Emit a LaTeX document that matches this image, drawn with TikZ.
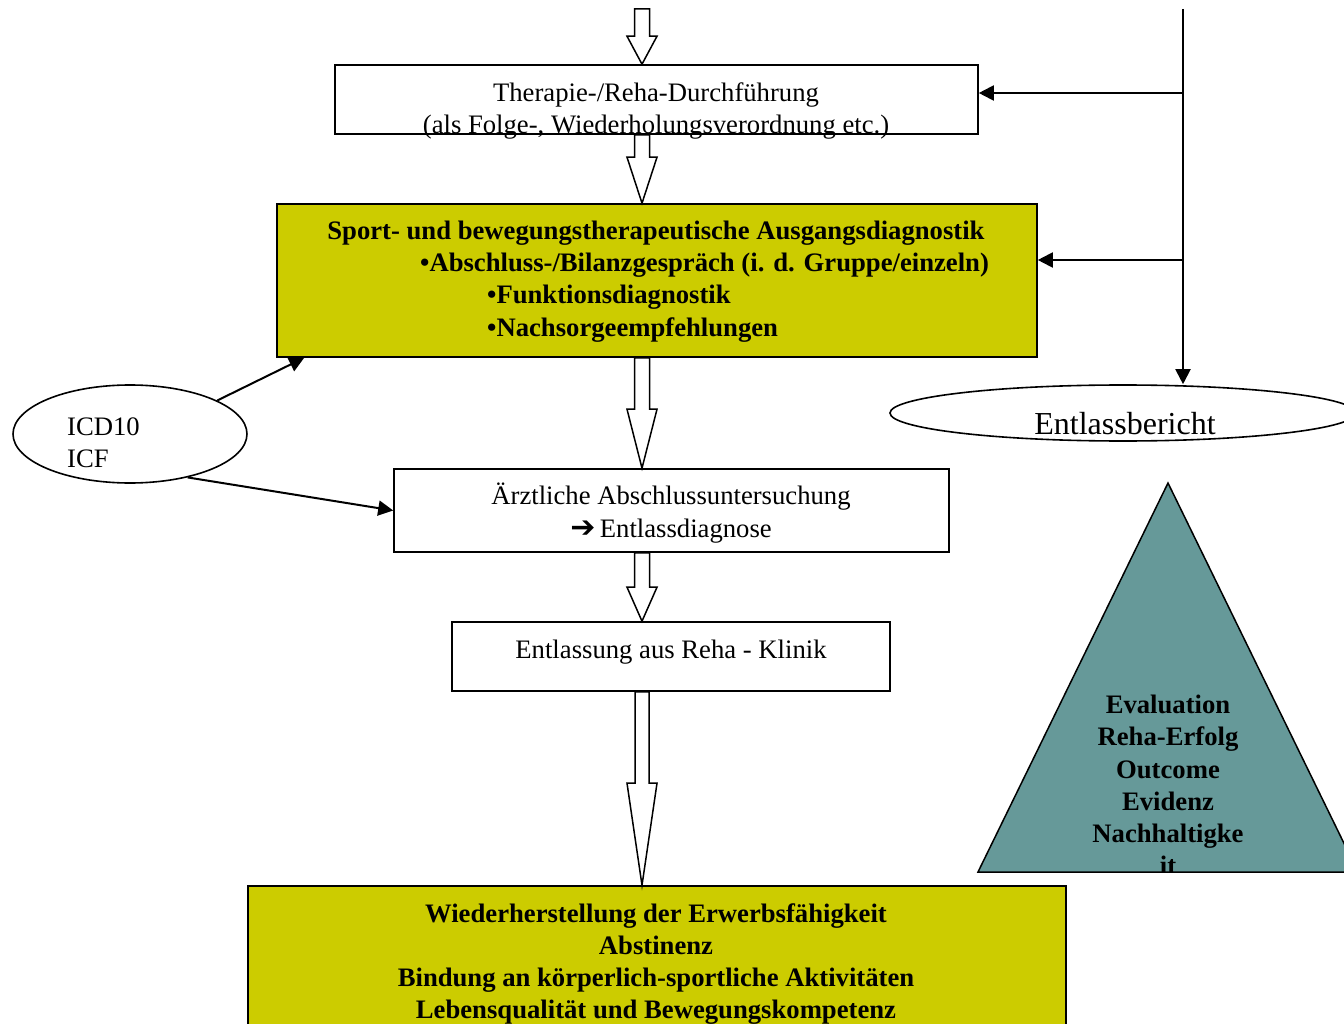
\documentclass[tikz,border=0pt]{standalone}
\usepackage{fontspec}
\setmainfont{Liberation Serif}
\newfontfamily\djv{DejaVu Sans}
\usetikzlibrary{shapes.geometric,arrows.meta,calc}
\definecolor{ylw}{HTML}{CCCC00}
\definecolor{tealx}{HTML}{669999}
\newcommand\hollowarr[5]{%
  \draw[hollow] ($(#1)+(-#3,0)$) -- ($(#2)+(-#3,-#5)$) -- ($(#2)+(-#4,-#5)$) -- (#2)
    -- ($(#2)+(#4,-#5)$) -- ($(#2)+(#3,-#5)$) -- ($(#1)+(#3,0)$) -- cycle;}
\begin{document}
\begin{tikzpicture}[x=1pt,y=-1pt,
  box/.style={draw,line width=1.6pt,inner sep=0pt},
  txt/.style={font=\fontsize{26.67}{32}\selectfont,inner sep=0pt,anchor=base},
  btxt/.style={font=\fontsize{26.67}{32}\selectfont\bfseries,inner sep=0pt,anchor=base},
  hollow/.style={draw,line width=1.5pt,fill=white,line join=miter},
  conn/.style={line width=2pt,-{Triangle[length=15pt,width=15pt]}}]
\useasboundingbox (0,0) rectangle (1344,1024);
\clip (0,0) rectangle (1344,1024);
\fill[white] (0,0) rectangle (1344,1024);

% boxes
\node[box,minimum width=643pt,minimum height=69pt] (b1) at (656.5,99.5) {};
\node[box,fill=ylw,minimum width=760pt,minimum height=153pt] (b2) at (657,280.5) {};
\node[box,minimum width=555pt,minimum height=83pt] (b3) at (671.5,510.5) {};
\node[box,minimum width=438pt,minimum height=69pt] (b4) at (671,656.5) {};
\node[box,fill=ylw,minimum width=818pt,minimum height=170pt] (b5) at (657,971) {};

% ellipses
\node[draw,ellipse,line width=1.6pt,minimum width=234pt,minimum height=98pt,inner sep=0pt] (icd) at (130,434) {};
\node[draw,ellipse,line width=1.6pt,minimum width=466pt,minimum height=56pt,inner sep=0pt] (eb) at (1123,413) {};

% triangle
\coordinate (tA) at (1168,483);
\coordinate (tL) at (978,872);
\coordinate (tR) at (1358,872);
\draw[fill=tealx,line width=1.5pt] (tA) -- (tL) -- (tR) -- cycle;

% hollow block arrows
\coordinate (ax) at (642,0);
\coordinate (a1s) at (642,9);
\coordinate (a1e) at (ax |- b1.north);
\coordinate (a2s) at (ax |- b1.south);
\coordinate (a2e) at (ax |- b2.north);
\coordinate (a3s) at (ax |- b2.south);
\coordinate (a3e) at (ax |- b3.north);
\coordinate (a4s) at (ax |- b3.south);
\coordinate (a4e) at (ax |- b4.north);
\coordinate (a5s) at (ax |- b4.south);
\coordinate (a5e) at (ax |- b5.north);
\hollowarr{a1s}{a1e}{7.5}{15}{28}
\hollowarr{a2s}{a2e}{7.5}{15}{46}
\hollowarr{a3s}{a3e}{7.5}{15}{59}
\hollowarr{a4s}{a4e}{7.5}{15}{34}
\hollowarr{a5s}{a5e}{7}{15}{102}

% connectors
\draw[conn] (icd.21) -- ($(b2.south west)+(28,0)$);
\draw[conn] (icd.-37) -- (b3.west);
\coordinate (vtop) at (1183,9);
\coordinate (j1) at (1183,93);
\coordinate (j2) at (1183,260);
\draw[conn] (vtop) -- (vtop |- eb.north);
\draw[conn] (j1) -- (j1 -| b1.east);
\draw[conn] (j2) -- (j2 -| b2.east);

% texts
\node[txt] (t1a) at (656,102) {Therapie-/Reha-Durchführung};
\node[txt] (t1b) at (656,134) {(als Folge-, Wiederholungsverordnung etc.)};
\node[btxt] (t2a) at (656,240) {Sport- und bewegungstherapeutische Ausgangsdiagnostik};
\node[btxt,anchor=base west] (t2b) at (420,272) {•Abschluss-/Bilanzgespräch (i. d. Gruppe/einzeln)};
\node[btxt,anchor=base west] (t2c) at (487,304) {•Funktionsdiagnostik};
\node[btxt,anchor=base west] (t2d) at (487,336) {•Nachsorgeempfehlungen};
\node[txt] (t3a) at (671,504) {Ärztliche Abschlussuntersuchung};
\node[txt] (t3b) at (671,537) {{\djv\fontsize{30}{30}\selectfont\bfseries ➔}\,Entlassdiagnose};
\node[txt] (t4) at (671,658) {Entlassung aus Reha - Klinik};
\node[btxt] (t5a) at (656,922) {Wiederherstellung der Erwerbsfähigkeit};
\node[btxt] (t5b) at (656,954) {Abstinenz};
\node[btxt] (t5c) at (656,986) {Bindung an körperlich-sportliche Aktivitäten};
\node[btxt] (t5d) at (656,1018) {Lebensqualität und Bewegungskompetenz};
\node[txt,anchor=base west] (ti1) at (67,435) {ICD10};
\node[txt,anchor=base west] (ti2) at (67,467) {ICF};
\node[txt,font=\fontsize{32}{38}\selectfont] (teb) at (1125,434) {Entlassbericht};
\begin{scope}
  \clip (900,470) rectangle (1344,871);
  \node[btxt] (tr1) at (1168,713) {Evaluation};
  \node[btxt] (tr2) at (1168,745) {Reha-Erfolg};
  \node[btxt] (tr3) at (1168,778) {Outcome};
  \node[btxt] (tr4) at (1168,810) {Evidenz};
  \node[btxt] (tr5) at (1168,842) {Nachhaltigke};
  \node[btxt] (tr6) at (1168,874) {it};
\end{scope}
\end{tikzpicture}
\end{document}
